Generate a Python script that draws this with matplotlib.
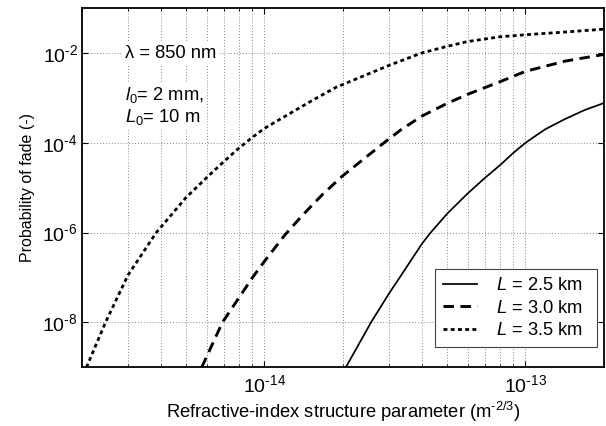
#Probability of fade vs refractive-index structure parameter
import numpy as np
import matplotlib
matplotlib.use("Agg")
from matplotlib import pyplot as plt
from matplotlib.ticker import FixedLocator, FuncFormatter, NullFormatter, NullLocator

plt.rcParams['font.family'] = ['Liberation Sans', 'DejaVu Sans']
plt.rcParams['mathtext.fontset'] = 'custom'
plt.rcParams['mathtext.rm'] = 'Liberation Sans'
plt.rcParams['mathtext.it'] = 'Liberation Sans:italic'

#Values (Cn2 in m^-2/3, probability of fade)
cn2_25 = [2.05e-14, 2.56e-14, 3.0e-14, 3.27e-14, 4.0e-14, 4.3e-14, 5.0e-14, 6.0e-14,
          7.0e-14, 8.0e-14, 9.0e-14, 1.0e-13, 1.19e-13, 1.42e-13, 1.69e-13, 2.0e-13]
pf_25 = [1e-9, 1e-8, 4.4e-8, 9.3e-8, 5.5e-7, 9.5e-7, 2.6e-6, 7.4e-6,
         1.66e-5, 3.2e-5, 6.0e-5, 1e-4, 2.0e-4, 3.4e-4, 5.4e-4, 7.7e-4]

cn2_30 = [5.75e-15, 6.9e-15, 8.0e-15, 9.0e-15, 1.0e-14, 1.2e-14, 1.4e-14,
          1.67e-14, 2.0e-14, 2.87e-14, 3.33e-14, 4.0e-14, 5.0e-14, 6.0e-14,
          8.0e-14, 1.0e-13, 1.42e-13, 2.0e-13]
pf_30 = [1e-9, 1e-8, 3.6e-8, 1e-7, 2.3e-7, 9e-7, 2.45e-6,
         7.1e-6, 1.87e-5, 1e-4, 1.94e-4, 3.9e-4, 7.5e-4, 1.2e-3,
         2.3e-3, 3.9e-3, 6.6e-3, 9.3e-3]

cn2_35 = [2.08e-15, 2.46e-15, 3.0e-15, 3.85e-15, 5.0e-15, 6.0e-15, 7.0e-15,
          8.0e-15, 9.0e-15, 1.0e-14, 1.52e-14, 1.88e-14, 3.0e-14, 4.0e-14,
          5.0e-14, 6.0e-14, 8.0e-14, 1.0e-13, 1.42e-13, 2.0e-13]
pf_35 = [1e-9, 1e-8, 1.13e-7, 1e-6, 6e-6, 1.67e-5, 3.85e-5,
         7.7e-5, 1.33e-4, 2.1e-4, 8.7e-4, 1.72e-3, 5.3e-3, 1e-2,
         1.4e-2, 1.8e-2, 2.3e-2, 2.55e-2, 2.93e-2, 3.4e-2]

labels = ['$\\mathit{L}$ = 2.5 km  ', '$\\mathit{L}$ = 3.0 km  ', '$\\mathit{L}$ = 3.5 km  ']
y_ticks = [1e-8, 1e-6, 1e-4, 1e-2]
x_ticks = [1e-14, 1e-13]
x_minor = [m * 10.0 ** e for e in (-15, -14) for m in range(2, 10)] + [2e-13]

fs = 13.2

fig = plt.figure(figsize=(6.06, 4.26), dpi=100)
ax = fig.add_axes([0.1353, 0.1376, 0.8614, 0.8434])

ax.loglog(cn2_25, pf_25, color='black', lw=1.25, label=labels[0], zorder=3)
ax.loglog(cn2_30, pf_30, color='black', lw=2.1, dashes=(3.6, 2.2), label=labels[1], zorder=3)
ax.loglog(cn2_35, pf_35, color='black', lw=2.0, dashes=(1.4, 1.2), label=labels[2], zorder=3)

ax.set_xlim(2e-15, 2e-13)
ax.set_ylim(1e-9, 1e-1)

#only even decades on y
ax.yaxis.set_major_locator(FixedLocator(y_ticks))
ax.yaxis.set_minor_locator(NullLocator())
ax.xaxis.set_major_locator(FixedLocator(x_ticks))
ax.xaxis.set_minor_locator(FixedLocator(x_minor))

def fmt(v, pos):
    e = int(round(np.log10(v)))
    return '10$^{\\mathregular{\\text{-}%d}}$' % abs(e)

ax.xaxis.set_major_formatter(FuncFormatter(fmt))
ax.yaxis.set_major_formatter(FuncFormatter(fmt))
ax.xaxis.set_minor_formatter(NullFormatter())

ax.tick_params(which='both', direction='in', top=True, right=True, labelsize=14)
ax.tick_params(which='major', length=4.5, width=0.8)
ax.tick_params(which='minor', length=2.5, width=0.6)
ax.tick_params(axis='x', pad=5)
ax.tick_params(axis='y', pad=3)

ax.grid(True, which='major', ls=(0, (1, 2)), color='#888888', lw=0.7, zorder=1)
ax.grid(True, which='minor', axis='x', ls=(0, (1, 2)), color='#888888', lw=0.7, zorder=1)

for s in ax.spines.values():
    s.set_linewidth(1.3)

ax.set_xlabel('Refractive-index structure parameter (m$^{\\mathregular{\\text{-}2/3}}$)', fontsize=fs, labelpad=3)
ax.set_ylabel('Probability of fade (-)', fontsize=11.5, labelpad=5)

box = dict(facecolor='white', edgecolor='none', pad=1.5)
ax.text(0.082, 0.875, '\u03bb = 850 nm', transform=ax.transAxes, fontsize=fs,
        va='center', ha='left', bbox=box, zorder=4)
ax.text(0.082, 0.758, '$\\mathit{l}_{\\mathregular{0}}$= 2 mm,', transform=ax.transAxes, fontsize=fs,
        va='center', ha='left', bbox=box, zorder=4)
ax.text(0.082, 0.697, '$\\mathit{L}_{\\mathregular{0}}$= 10 m', transform=ax.transAxes, fontsize=fs,
        va='center', ha='left', bbox=box, zorder=4)

leg = ax.legend(loc='lower right', bbox_to_anchor=(0.987, 0.056), borderaxespad=0,
                fontsize=fs, fancybox=False, framealpha=1, edgecolor='#444444',
                handlelength=1.85, handletextpad=1.0, borderpad=0.45, labelspacing=0.3)
leg.get_frame().set_linewidth(0.8)
leg.set_zorder(5)

plt.savefig('out.png', dpi=100)
